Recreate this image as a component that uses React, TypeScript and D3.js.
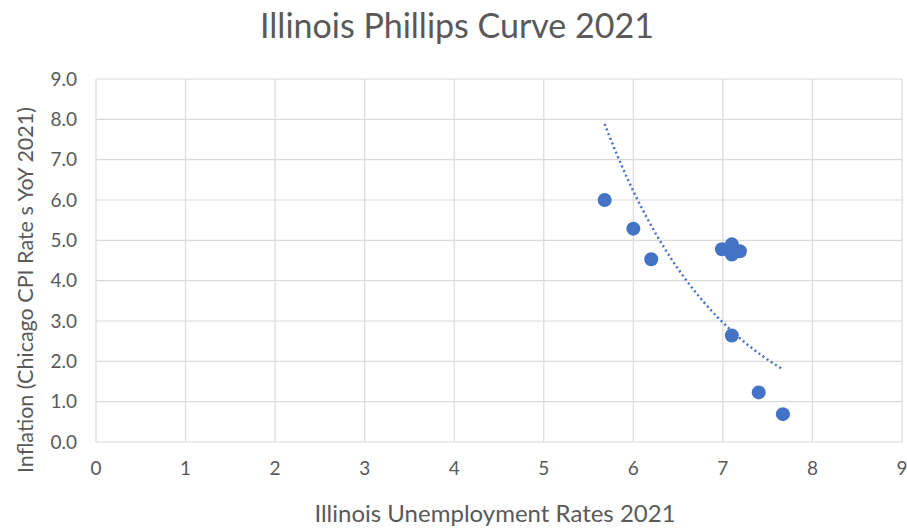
import * as d3 from 'd3'

const unemployment = [5.68, 6.0, 6.2, 6.99, 7.1, 7.1, 7.19, 7.1, 7.4, 7.67]
const inflation = [6.0, 5.29, 4.53, 4.78, 4.9, 4.65, 4.73, 2.64, 1.23, 0.69]
const xTicks = [0, 1, 2, 3, 4, 5, 6, 7, 8, 9]
const yTicks = [0, 1, 2, 3, 4, 5, 6, 7, 8, 9]

const title = 'Illinois Phillips Curve 2021'
const xTitle = 'Illinois Unemployment Rates 2021'
const yTitle = 'Inflation (Chicago CPI Rate s YoY 2021)'

const width = 907
const height = 531
const margin = { top: 79, right: 5, bottom: 89, left: 96 }
const font = 'Lato, "Open Sans", sans-serif'
const textColor = '#595959'
const blue = '#4472C4'

export default function App() {
  const x = d3.scaleLinear().domain([0, 9]).range([margin.left, width - margin.right])
  const y = d3.scaleLinear().domain([0, 9]).range([height - margin.bottom, margin.top])

  // exponential trendline, least squares on ln(y)
  const mx = d3.mean(unemployment)!
  const ly = inflation.map(v => Math.log(v))
  const my = d3.mean(ly)!
  const sxy = d3.sum(unemployment, (v, i) => (v - mx) * (ly[i] - my))
  const sxx = d3.sum(unemployment, v => (v - mx) ** 2)
  const b = sxy / sxx
  const a = Math.exp(my - b * mx)
  const [x0, x1] = d3.extent(unemployment) as [number, number]
  const trendX = d3.range(0, 41).map(i => x0 + ((x1 - x0) * i) / 40)
  const line = d3
    .line<number>()
    .x(d => x(d))
    .y(d => y(a * Math.exp(b * d)))

  return (
    <svg
      width={width}
      height={height}
      style={{ position: 'absolute', left: 0, top: 0, background: '#fff' }}
      fontFamily={font}
    >
      <rect width={width} height={height} fill="#fff" />
      <text x={457} y={38} textAnchor="middle" fontSize={34} fill={textColor}>
        {title}
      </text>

      {/* gridlines */}
      {yTicks.map(t => (
        <line key={'gy' + t} x1={x(0)} x2={x(9)} y1={y(t)} y2={y(t)} stroke="#d9d9d9" strokeWidth={1.2} />
      ))}
      {xTicks.map(t => (
        <line key={'gx' + t} x1={x(t)} x2={x(t)} y1={y(0)} y2={y(9)} stroke="#d9d9d9" strokeWidth={1.2} />
      ))}

      {/* tick labels */}
      {yTicks.map(t => (
        <text key={'ly' + t} x={x(0) - 19} y={y(t)} dy="0.35em" textAnchor="end" fontSize={19} fill={textColor}>
          {t.toFixed(1)}
        </text>
      ))}
      {xTicks.map(t => (
        <text key={'lx' + t} x={x(t)} y={y(0) + 26} dy="0.35em" textAnchor="middle" fontSize={19} fill={textColor}>
          {t}
        </text>
      ))}

      {/* axis titles */}
      <text x={495} y={522} textAnchor="middle" fontSize={24} fill={textColor}>
        {xTitle}
      </text>
      <text
        transform={`translate(33, 290) rotate(-90)`}
        textAnchor="middle"
        fontSize={21.5}
        fill={textColor}
      >
        {yTitle}
      </text>

      {/* trendline */}
      <path d={line(trendX) ?? ''} fill="none" stroke={blue} strokeWidth={2.5} strokeDasharray="2 3" />

      {/* points */}
      {unemployment.map((u, i) => (
        <circle key={'p' + i} cx={x(u)} cy={y(inflation[i])} r={7} fill={blue} />
      ))}
    </svg>
  )
}
